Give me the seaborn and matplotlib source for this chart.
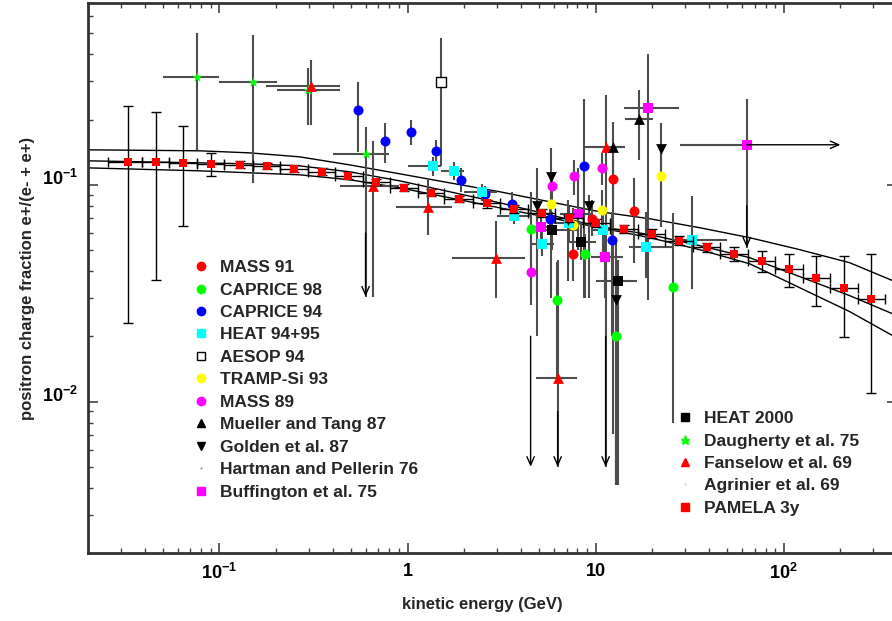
import numpy as np
import pandas as pd
import matplotlib
matplotlib.use("Agg")
import matplotlib.pyplot as plt
import seaborn as sns
from matplotlib.lines import Line2D
from matplotlib.ticker import LogLocator, NullFormatter

# --- PAMELA 3y (expected) ---
PAM_E = [0.0328, 0.0462, 0.0643, 0.0906, 0.128, 0.178, 0.248, 0.349, 0.485, 0.676,
         0.952, 1.34, 1.87, 2.63, 3.66, 5.16, 7.18, 10.1, 14.1, 19.9,
         27.6, 38.9, 54.2, 76.4, 106, 148, 208, 290]
PAM_F = [0.128, 0.128, 0.126, 0.125, 0.124, 0.122, 0.1185, 0.115, 0.110, 0.103,
         0.097, 0.092, 0.086, 0.082, 0.0775, 0.0743, 0.0705, 0.0668, 0.0627, 0.0595,
         0.0552, 0.0518, 0.0481, 0.0446, 0.0410, 0.0373, 0.0335, 0.0296]
PAM_LO = [0.0231, 0.0365, 0.0647, 0.110, 0.119, 0.118, 0.114, 0.111, 0.106, 0.0995,
          0.0935, 0.0885, 0.083, 0.0785, 0.0745, 0.0712, 0.0675, 0.064, 0.060, 0.057,
          0.0528, 0.0491, 0.0446, 0.0397, 0.0339, 0.0277, 0.0199, 0.0109]
PAM_HI = [0.231, 0.217, 0.187, 0.140, 0.129, 0.126, 0.123, 0.119, 0.114, 0.1065,
          0.1005, 0.0955, 0.089, 0.0855, 0.0805, 0.0775, 0.0735, 0.0697, 0.0655, 0.0622,
          0.0578, 0.0541, 0.0518, 0.0496, 0.0481, 0.0471, 0.0471, 0.0481]
PAM_EDGES = [0.0254, 0.0389, 0.0542, 0.0764, 0.106, 0.150, 0.209, 0.294, 0.409, 0.576,
             0.802, 1.13, 1.57, 2.22, 3.09, 4.35, 6.05, 8.53, 11.9, 16.7,
             23.3, 32.8, 45.7, 64.4, 89.6, 126, 176, 248, 345]

# --- model curves ---
CURVE_E = [0.02, 0.0783, 0.1445, 0.2664, 0.4915, 0.907, 1.673, 3.086, 5.69,
           10.5, 19.4, 35.7, 65.9, 121.6, 224, 414]
CURVE_UP = [0.145, 0.1435, 0.1404, 0.1346, 0.1236, 0.1124, 0.1021, 0.0929, 0.0835,
            0.0751, 0.0697, 0.0634, 0.0570, 0.0502, 0.0437, 0.0350]
CURVE_MID = [0.129, 0.1263, 0.1249, 0.1223, 0.1148, 0.1043, 0.0929, 0.0826, 0.0727,
             0.0641, 0.0589, 0.0524, 0.0461, 0.0377, 0.0308, 0.0246]
CURVE_LOW = [0.1197, 0.116, 0.1136, 0.1112, 0.1055, 0.0969, 0.0871, 0.0783, 0.0705,
             0.0634, 0.0570, 0.0502, 0.0432, 0.0335, 0.0260, 0.0193]

# --- other experiments: energy, fraction, error-bar ends ---
M91_E = [7.55, 9.52, 12.3, 15.9]
M91_F = [0.0481, 0.0697, 0.1066, 0.0759]
M91_LO = [0.036, 0.058, 0.085, 0.0437]
M91_HI = [0.062, 0.085, 0.133, 0.1078]

C98_E = [4.51, 6.21, 8.74, 12.9, 25.7]
C98_F = [0.0627, 0.0295, 0.0481, 0.0200, 0.0339]
C98_LO = [0.03, 0.0129, 0.030, 0.0041, 0.0080]
C98_HI = [0.0929, 0.044, 0.059, 0.054, 0.0743]

C94_E = [0.542, 0.755, 1.037, 1.409, 1.914, 2.568, 3.57, 5.69, 8.63, 12.2]
C94_F = [0.222, 0.160, 0.175, 0.1435, 0.1055, 0.0909, 0.0817, 0.0697, 0.122, 0.0558]
C94_LO = [0.142, 0.126, 0.153, 0.126, 0.0929, 0.084, 0.072, 0.060, 0.030, 0.020]
C94_HI = [0.298, 0.193, 0.199, 0.161, 0.1197, 0.099, 0.093, 0.080, 0.25, 0.075]

H95_E = [1.358, 1.757, 2.475, 3.66, 5.16, 7.18, 11.0, 18.5, 32.4]
H95_F = [0.1224, 0.116, 0.0929, 0.072, 0.0535, 0.0668, 0.0620, 0.0518, 0.0558]
H95_LO = [0.110, 0.105, 0.084, 0.066, 0.047, 0.055, 0.045, 0.037, 0.033]
H95_HI = [0.135, 0.128, 0.101, 0.080, 0.061, 0.080, 0.080, 0.075, 0.089]
H95_ELO = [1.0, 1.5, 2.0, 3.0, 4.5, 6.0, 9.5, 15.1, 25.7]
H95_EHI = [1.5, 2.0, 3.0, 4.5, 6.0, 8.5, 14.0, 25.7, 49.7]

AE_E = [1.499]
AE_F = [0.298]
AE_LO = [0.1219]
AE_HI = [0.475]

TR_E = [5.76, 7.55, 10.8, 22.2]
TR_F = [0.0817, 0.0654, 0.0767, 0.110]
TR_LO = [0.070, 0.055, 0.060, 0.064]
TR_HI = [0.095, 0.078, 0.095, 0.146]

M89_E = [4.51, 5.83, 7.64, 10.8]
M89_F = [0.0397, 0.0989, 0.110, 0.1197]
M89_LO = [0.028, 0.085, 0.090, 0.100]
M89_HI = [0.056, 0.115, 0.130, 0.140]

MT_E = [12.3, 17.1]
MT_F = [0.150, 0.201]
MT_LO = [0.00706, 0.130]
MT_HI = [0.195, 0.274]
MT_ELO = [9.63, 14.4]
MT_EHI = [14.4, 20.1]

GO_E = [4.86, 5.76, 7.10, 9.18, 12.9, 22.2]
GO_F = [0.080, 0.1089, 0.0690, 0.080, 0.0295, 0.1465]
GO_LO = [0.020, 0.030, 0.036, 0.030, 0.0041, 0.0641]
GO_HI = [0.120, 0.148, 0.085, 0.090, 0.0357, 0.193]

BU_E = [5.10, 8.02, 11.2, 18.9, 63.6]
BU_F = [0.0641, 0.0735, 0.0466, 0.226, 0.153]
BU_LO = [0.055, 0.050, 0.030, 0.0295, 0.0513]
BU_HI = [0.075, 0.120, 0.062, 0.40, 0.25]
BU_ELO = [4.5, 6.5, 9.5, 14.1, 28.2]
BU_EHI = [5.8, 9.5, 14.0, 27.9, 63.6]

H00_E = [5.83, 8.32, 13.1]
H00_F = [0.0620, 0.0546, 0.0361]
H00_LO = [0.050, 0.045, 0.0041]
H00_HI = [0.075, 0.066, 0.045]
H00_ELO = [4.29, 7.2, 10.1]
H00_EHI = [8.2, 10.1, 16.5]

DA_E = [0.0755, 0.150, 0.297, 0.598]
DA_F = [0.315, 0.298, 0.274, 0.139]
DA_LO = [0.145, 0.102, 0.189, 0.0305]
DA_HI = [0.50, 0.49, 0.346, 0.185]
DA_ELO = [0.0498, 0.100, 0.201, 0.399]
DA_EHI = [0.100, 0.201, 0.435, 0.80]

FA_E = [0.305, 0.651, 1.277, 2.94, 6.28, 11.4]
FA_F = [0.286, 0.0989, 0.0788, 0.0461, 0.0129, 0.150]
FA_LO = [0.189, 0.0305, 0.0589, 0.030, 0.005, 0.005]
FA_HI = [0.377, 0.160, 0.1055, 0.068, 0.045, 0.26]
FA_ELO = [0.176, 0.435, 0.863, 1.714, 4.8, 8.53]
FA_EHI = [0.435, 0.90, 1.714, 4.19, 8.0, 14.4]

# upper limits (downward arrows) and one lower limit in energy
ARROW_E = [0.598, 4.51, 6.28, 11.3, 63.6]
ARROW_FROM = [0.06, 0.02, 0.009, 0.02, 0.08]
ARROW_TO = [0.0305, 0.005, 0.005, 0.005, 0.0513]
HARROW_F = [0.153]
HARROW_FROM = [63.6]
HARROW_TO = [200]

LEFT_LABELS = ["MASS 91", "CAPRICE 98", "CAPRICE 94", "HEAT 94+95", "AESOP 94",
               "TRAMP-Si 93", "MASS 89", "Mueller and Tang 87", "Golden et al. 87",
               "Hartman and Pellerin 76", "Buffington et al. 75"]
RIGHT_LABELS = ["HEAT 2000", "Daugherty et al. 75", "Fanselow et al. 69",
                "Agrinier et al. 69", "PAMELA 3y"]

# ---------------------------------------------------------------
sns.set_theme(style="ticks")
plt.rcParams["font.family"] = ["Liberation Sans", "DejaVu Sans"]
plt.rcParams["font.weight"] = "bold"
plt.rcParams["mathtext.fontset"] = "custom"
plt.rcParams["mathtext.rm"] = "Liberation Sans:bold"
plt.rcParams["mathtext.bf"] = "Liberation Sans:bold"
plt.rcParams["mathtext.it"] = "Liberation Sans:bold"

fig = plt.figure(figsize=(8.92, 6.21), dpi=100)
ax = fig.add_axes([88 / 892, 68 / 621, 809 / 892, 550 / 621])
ax.set_xscale("log")
ax.set_yscale("log")

# model band
for curve in (CURVE_UP, CURVE_MID, CURVE_LOW):
    sns.lineplot(x=CURVE_E, y=curve, color="black", lw=1.0, sort=False,
                 estimator=None, ax=ax, zorder=2)

ERR_COL = "#4d4d4d"


def draw_set(e, f, lo, hi, elo=None, ehi=None, marker="o", color="red",
             size=52, edge=None, lw=1.5):
    e = np.asarray(e, float)
    f = np.asarray(f, float)
    yerr = [f - np.asarray(lo), np.asarray(hi) - f]
    xerr = None
    if elo is not None:
        xerr = [e - np.asarray(elo), np.asarray(ehi) - e]
    ax.errorbar(e, f, yerr=yerr, xerr=xerr, fmt="none", ecolor=ERR_COL,
                elinewidth=lw, capsize=0, zorder=2.5)
    sns.scatterplot(x=e, y=f, marker=marker, color=color, s=size,
                    edgecolor=edge if edge else color, linewidth=1 if edge else 0,
                    ax=ax, zorder=3, legend=False)


draw_set(DA_E, DA_F, DA_LO, DA_HI, DA_ELO, DA_EHI, "*", "#00ff00", 60)
draw_set(FA_E, FA_F, FA_LO, FA_HI, FA_ELO, FA_EHI, "^", "red", 60)
draw_set(AE_E, AE_F, AE_LO, AE_HI, marker="s", color="white", size=60, edge="black")
draw_set(C94_E, C94_F, C94_LO, C94_HI, marker="o", color="blue")
draw_set(C98_E, C98_F, C98_LO, C98_HI, marker="o", color="#00ff00")
draw_set(M91_E, M91_F, M91_LO, M91_HI, marker="o", color="red")
draw_set(TR_E, TR_F, TR_LO, TR_HI, marker="o", color="yellow")
draw_set(M89_E, M89_F, M89_LO, M89_HI, marker="o", color="magenta")
draw_set(H95_E, H95_F, H95_LO, H95_HI, H95_ELO, H95_EHI, "s", "cyan", 60)
draw_set(BU_E, BU_F, BU_LO, BU_HI, BU_ELO, BU_EHI, "s", "magenta", 60)
draw_set(H00_E, H00_F, H00_LO, H00_HI, H00_ELO, H00_EHI, "s", "black", 60)
draw_set(MT_E, MT_F, MT_LO, MT_HI, MT_ELO, MT_EHI, "^", "black", 60)
draw_set(GO_E, GO_F, GO_LO, GO_HI, marker="v", color="black", size=60)

# PAMELA with capped bars
pe = np.asarray(PAM_E)
pf = np.asarray(PAM_F)
edges = np.asarray(PAM_EDGES)
ax.errorbar(pe, pf, yerr=[pf - np.asarray(PAM_LO), np.asarray(PAM_HI) - pf],
            xerr=[pe - edges[:-1], edges[1:] - pe], fmt="none", ecolor="black",
            elinewidth=1.0, capsize=3.5, capthick=1.0, zorder=3.5)
sns.scatterplot(x=pe, y=pf, marker="s", color="red", s=30, linewidth=0, ax=ax,
                zorder=4, legend=False)

arrow_kw = dict(arrowstyle="->,head_length=0.5,head_width=0.22", lw=1.0, color="black",
                shrinkA=0, shrinkB=0)
for e, a, b in zip(ARROW_E, ARROW_FROM, ARROW_TO):
    ax.annotate("", xy=(e, b), xytext=(e, a), arrowprops=arrow_kw, zorder=3)
for f, a, b in zip(HARROW_F, HARROW_FROM, HARROW_TO):
    ax.annotate("", xy=(b, f), xytext=(a, f), arrowprops=arrow_kw, zorder=3)

ax.set_xlim(0.02, 400)
ax.set_ylim(0.002, 0.69)

ax.set_xticks([0.1, 1, 10, 100], labels=[r"$10^{-1}$", "1", "10", r"$10^{2}$"])
ax.set_yticks([0.01, 0.1], labels=[r"$10^{-2}$", r"$10^{-1}$"])
ax.xaxis.set_minor_locator(LogLocator(base=10, subs=np.arange(2, 10), numticks=20))
ax.yaxis.set_minor_locator(LogLocator(base=10, subs=np.arange(2, 10), numticks=20))
ax.xaxis.set_minor_formatter(NullFormatter())
ax.yaxis.set_minor_formatter(NullFormatter())
ax.tick_params(which="both", direction="in", top=True, right=True, colors="#444444",
               labelcolor="black", labelsize=13)
ax.tick_params(which="major", length=7.5, width=1.2, pad=7)
ax.tick_params(which="minor", length=3.8, width=1.0)
for lab in ax.get_yticklabels():
    lab.set_va("baseline")
for sp in ax.spines.values():
    sp.set_linewidth(2)
    sp.set_color("#333333")

ax.text(0.487, -0.093, "kinetic energy (GeV)", transform=ax.transAxes, ha="center",
        va="center", fontsize=12, fontweight="bold")
ax.text(-0.0742, 0.5, "positron charge fraction e+/(e- + e+)", transform=ax.transAxes,
        ha="center", va="center", rotation=90, fontsize=12, fontweight="bold")

# legends
def h(marker, color, size=6, edge=None):
    return Line2D([], [], ls="none", marker=marker, markersize=size, color=color,
                  markerfacecolor=color, markeredgecolor=edge if edge else color)

left_handles = [h("o", "red"), h("o", "#00ff00"), h("o", "blue"), h("s", "cyan", 5.5),
                h("s", "white", 5.5, "black"), h("o", "yellow"), h("o", "magenta"),
                h("^", "black", 5.5), h("v", "black", 5.5), h(".", "#888888", 1),
                h("s", "magenta", 5.5)]
right_handles = [h("s", "black", 5.5), h("*", "#00ff00", 6.5), h("^", "red", 6),
                 h(".", "#cccccc", 1), h("s", "red", 6)]

leg_kw = dict(frameon=False, handlelength=0.5, handletextpad=0.85, labelspacing=0.42,
              borderpad=0, borderaxespad=0, prop=dict(size=12.5, weight="bold"),
              loc="upper left", bbox_transform=fig.transFigure)
leg1 = ax.legend(left_handles, LEFT_LABELS, bbox_to_anchor=(197 / 892, 1 - 260 / 621),
                 **leg_kw)
ax.add_artist(leg1)
ax.legend(right_handles, RIGHT_LABELS, bbox_to_anchor=(681 / 892, 1 - 411 / 621), **leg_kw)

fig.savefig("out.png", dpi=100)
